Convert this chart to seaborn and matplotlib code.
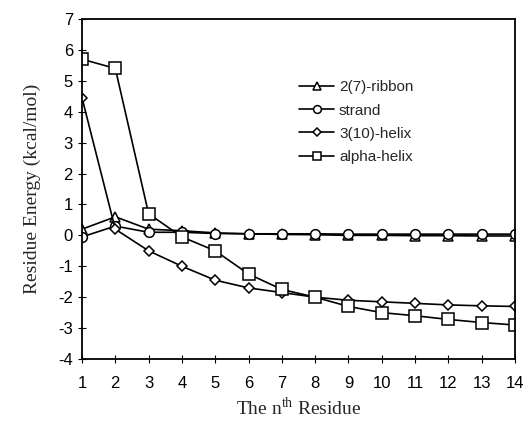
import matplotlib
matplotlib.use("Agg")
import matplotlib.pyplot as plt
import seaborn as sns
import pandas as pd

residues = list(range(1, 15))
ribbon = [0.2, 0.6, 0.2, 0.15, 0.08, 0.05, 0.03, 0.02, 0.0, 0.0, -0.01, -0.01, -0.02, -0.02]
strand = [-0.05, 0.3, 0.1, 0.1, 0.06, 0.05, 0.05, 0.05, 0.04, 0.04, 0.04, 0.04, 0.04, 0.04]
helix310 = [4.45, 0.2, -0.5, -1.0, -1.45, -1.7, -1.85, -2.0, -2.1, -2.15, -2.2, -2.25, -2.28, -2.3]
alpha = [5.7, 5.4, 0.7, -0.05, -0.5, -1.25, -1.75, -2.0, -2.3, -2.5, -2.6, -2.72, -2.82, -2.9]
series_names = ["2(7)-ribbon", "strand", "3(10)-helix", "alpha-helix"]
markers = ["^", "o", "D", "s"]
msizes = [7, 7, 5.5, 8]

df = pd.DataFrame({"residue": residues * 4,
                   "energy": ribbon + strand + helix310 + alpha,
                   "series": sum([[n] * 14 for n in series_names], [])})

sns.set_style("ticks")
plt.rcParams['font.family'] = ['Liberation Sans', 'DejaVu Sans']
plt.rcParams['axes.unicode_minus'] = False

fig = plt.figure(figsize=(5.29, 4.34), dpi=100)
ax = fig.add_axes([82 / 529, 1 - 359 / 434, (515 - 82) / 529, (359 - 19) / 434])

for name, m, ms in zip(series_names, markers, msizes):
    sub = df[df.series == name]
    sns.lineplot(data=sub, x="residue", y="energy", ax=ax, color="black", lw=1.2,
                 marker=m, markersize=ms, markerfacecolor="white", markeredgecolor="black",
                 markeredgewidth=1.1, label=name)

ax.set_xlim(1, 14)
ax.set_ylim(-4, 7)
ax.set_xticks(residues)
ax.set_yticks(range(-4, 8))
ax.tick_params(direction="inout", length=6, width=0.8, labelsize=12, colors="black")
ax.tick_params(axis="x", pad=9)
for s in ax.spines.values():
    s.set_linewidth(1.3)
    s.set_color("black")

ax.set_xlabel("The n$^{\\mathregular{th}}$ Residue", family="Liberation Serif", fontsize=14, labelpad=4)
ax.set_ylabel("Residue Energy (kcal/mol)", family="Liberation Serif", fontsize=14, labelpad=12)

leg = ax.legend(loc="upper left", bbox_to_anchor=(0.47, 0.86), frameon=False, fontsize=11,
                handlelength=2.3, handletextpad=0.3, labelspacing=0.6, markerscale=0.8)

fig.savefig("out.png", dpi=100)
